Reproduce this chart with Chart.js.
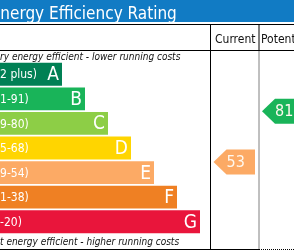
<!DOCTYPE html>
<html lang="en">
<head>
<meta charset="UTF-8">
<title>Energy Efficiency Rating</title>
<script src="https://cdn.jsdelivr.net/npm/chart.js"></script>
<style>
    body { margin: 0; background: #fff; }
    canvas { display: block; }
</style>
</head>
<body>
<canvas id="epc" width="294" height="250"></canvas>
<script>
// rating bands
const bands = ['A', 'B', 'C', 'D', 'E', 'F', 'G'];
const bandRanges = ['(92 plus)', '(81-91)', '(69-80)', '(55-68)', '(39-54)', '(21-38)', '(1-20)'];
const bandLows = [92, 81, 69, 55, 39, 21, 1];
const bandHighs = [100, 91, 80, 68, 54, 38, 20];
const bandLength = [62, 85, 108, 131, 154, 177, 200];
const bandColors = ['#008054', '#19b459', '#8dce46', '#ffd500', '#fcaa65', '#ef8023', '#e9153b'];

const currentRating = 53;
const potentialRating = 81;

const FONT = '"DejaVu Sans Condensed", "DejaVu Sans", sans-serif';
const colCurrent = 210.5;
const colPotential = 259;

function bandOf(v) {
    return bandLows.findIndex((lo, i) => v >= lo && v <= bandHighs[i]);
}

function ratingPos(v) {
    const i = bandOf(v);
    const frac = (v - bandLows[i]) / (bandHighs[i] - bandLows[i]);
    return i + 0.5 - frac;
}

function drawArrow(ctx, left, y, right, color, text) {
    const h = 25;
    ctx.fillStyle = color;
    ctx.beginPath();
    ctx.moveTo(left, y);
    ctx.lineTo(left + 13, y - h / 2);
    ctx.lineTo(right, y - h / 2);
    ctx.lineTo(right, y + h / 2);
    ctx.lineTo(left + 13, y + h / 2);
    ctx.closePath();
    ctx.fill();
    ctx.fillStyle = '#fff8ee';
    ctx.font = '16px ' + FONT;
    ctx.textAlign = 'left';
    ctx.textBaseline = 'middle';
    ctx.fillText(text, left + 13, y + 1);
}

const epcPlugin = {
    id: 'epc',
    beforeDraw(chart) {
        const ctx = chart.ctx;
        const W = chart.width;
        ctx.save();
        ctx.fillStyle = '#fff';
        ctx.fillRect(0, 0, W, chart.height);

        // title bar
        ctx.fillStyle = '#117bc4';
        ctx.fillRect(0, 0, W, 22);
        ctx.fillStyle = '#fff';
        ctx.font = '17px ' + FONT;
        ctx.textBaseline = 'alphabetic';
        ctx.textAlign = 'left';
        const tx = 49 - ctx.measureText('Energy ').width;
        ctx.fillText('Energy Efficiency Rating', tx, 19);

        // table lines
        ctx.strokeStyle = '#000';
        ctx.lineWidth = 1;
        ctx.beginPath();
        ctx.moveTo(0, 24.5); ctx.lineTo(W, 24.5);
        ctx.moveTo(0, 50.5); ctx.lineTo(W, 50.5);
        ctx.moveTo(0, 249.5); ctx.lineTo(colPotential, 249.5);
        ctx.moveTo(colCurrent, 24.5); ctx.lineTo(colCurrent, 250);
        ctx.moveTo(colPotential, 24.5); ctx.lineTo(colPotential, 50.5);
        ctx.stroke();
        ctx.setLineDash([1, 1]);
        ctx.beginPath();
        ctx.moveTo(colPotential, 50.5); ctx.lineTo(colPotential, 250);
        ctx.moveTo(colPotential, 249.5); ctx.lineTo(W, 249.5);
        ctx.stroke();
        ctx.setLineDash([]);

        // headers
        ctx.fillStyle = '#111';
        ctx.font = '12px ' + FONT;
        ctx.fillText('Current', 215, 43);
        ctx.fillText('Potential', 261, 43);

        // top / bottom notes
        ctx.font = 'italic 10px ' + FONT;
        ctx.fillText('Very energy efficient - lower running costs', -ctx.measureText('Ve').width, 60);
        ctx.fillText('Not energy efficient - higher running costs', -ctx.measureText('No').width, 245);
        ctx.restore();
    },
    afterDatasetsDraw(chart) {
        const ctx = chart.ctx;
        const meta = chart.getDatasetMeta(0);
        const yScale = chart.scales.y;
        ctx.save();
        meta.data.forEach((bar, i) => {
            ctx.fillStyle = '#fff';
            ctx.textBaseline = 'middle';
            ctx.textAlign = 'right';
            ctx.font = '19px ' + FONT;
            ctx.fillText(bands[i], bar.x - 3, bar.y + 1);
            ctx.textAlign = 'left';
            ctx.font = '12px ' + FONT;
            ctx.fillText(bandRanges[i], -11, bar.y + 1);
        });
        drawArrow(ctx, colCurrent + 3, yScale.getPixelForValue(ratingPos(currentRating)),
            colPotential - 4, bandColors[bandOf(currentRating)], String(currentRating));
        drawArrow(ctx, colPotential + 3, yScale.getPixelForValue(ratingPos(potentialRating)),
            colPotential + 45, bandColors[bandOf(potentialRating)], String(potentialRating));
        ctx.restore();
    }
};

new Chart(document.getElementById('epc'), {
    type: 'bar',
    data: {
        labels: bands,
        datasets: [{
            data: bandLength,
            backgroundColor: bandColors,
            borderWidth: 0,
            barPercentage: 1,
            categoryPercentage: 0.93
        }]
    },
    options: {
        indexAxis: 'y',
        responsive: false,
        animation: false,
        layout: { padding: { top: 62, bottom: 16, left: 0, right: 0 } },
        plugins: { legend: { display: false }, tooltip: { enabled: false } },
        scales: {
            x: { display: false, min: 0, max: 294 },
            y: { display: false }
        }
    },
    plugins: [epcPlugin]
});
</script>
</body>
</html>
